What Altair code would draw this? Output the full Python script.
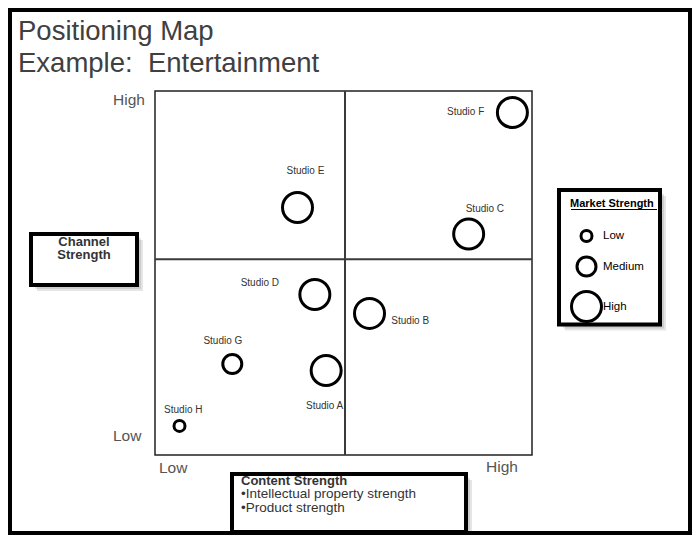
import altair as alt
import pandas as pd

# ---- data ----
studios = ["Studio A", "Studio B", "Studio C", "Studio D", "Studio E", "Studio F", "Studio G", "Studio H"]
content_strength = [4.54, 5.69, 8.32, 4.24, 3.78, 9.48, 2.05, 0.65]
channel_strength = [2.32, 3.89, 6.07, 4.41, 6.80, 9.41, 2.50, 0.80]
market_strength = ["High", "High", "High", "High", "High", "High", "Medium", "Low"]
label_x = [4.50, 6.77, 8.75, 2.78, 3.99, 8.24, 1.80, 0.75]
label_y = [1.35, 3.67, 6.76, 4.73, 7.81, 9.43, 3.14, 1.24]
strength_levels = ["Low", "Medium", "High"]
quadrant_split_x = 5.04
quadrant_split_y = 5.38

title_lines = ["Positioning Map", "Example:\u00a0 Entertainment"]
channel_box_lines = ["Channel", "Strength"]
content_box_title = "Content Strength"
content_box_lines = ["\u2022Intellectual property strength", "\u2022Product strength"]

df = pd.DataFrame({
    "studio": studios,
    "content": content_strength,
    "channel": channel_strength,
    "market": market_strength,
    "lx": label_x,
    "ly": label_y,
})

FONT = "Liberation Sans"
X_SCALE = alt.Scale(domain=[0, 10], range=[147, 524], nice=False, zero=False)
Y_SCALE = alt.Scale(domain=[0, 10], range=[447, 83], nice=False, zero=False)
dummy = alt.Data(values=[{"k": 1}])


def rect(x1, y1, x2, y2, **kw):
    return alt.Chart(dummy).mark_rect(**kw).encode(
        x=alt.value(x1), x2=alt.value(x2), y=alt.value(y1), y2=alt.value(y2))


def text(s, x, y, **kw):
    base = dict(font=FONT, align="left", baseline="alphabetic", color="#333")
    base.update(kw)
    return alt.Chart(dummy).mark_text(text=s, **base).encode(
        x=alt.value(x), y=alt.value(y))


def shadowed_box(x1, y1, x2, y2):
    layers = []
    for off in (2, 4, 6):
        layers.append(rect(x1 + off, y1 + off, x2 + off, y2 + off,
                           fill="black", opacity=0.10))
    layers.append(rect(x1, y1, x2, y2, fill="white", stroke="black", strokeWidth=4))
    return layers


layers = []
# outer frame
layers.append(rect(2, 2, 682, 525, fill="transparent", stroke="black", strokeWidth=4))

# boxes
layers += shadowed_box(23, 226, 129, 277)     # channel strength
layers += shadowed_box(224, 466, 458, 524)    # content strength
layers += shadowed_box(551, 182, 652, 316.5)  # legend box

# plot frame and quadrant lines
frame = alt.Chart(dummy).mark_rect(fill="transparent", stroke="#222", strokeWidth=1.5).encode(
    x=alt.XDatum(0, scale=X_SCALE, axis=None),
    x2=alt.X2Datum(10),
    y=alt.YDatum(0, scale=Y_SCALE, axis=None),
    y2=alt.Y2Datum(10),
)
vline = alt.Chart(dummy).mark_rule(color="#3a3a3a", strokeWidth=2).encode(
    x=alt.XDatum(quadrant_split_x, scale=X_SCALE, axis=None),
    y=alt.YDatum(0, scale=Y_SCALE, axis=None),
    y2=alt.Y2Datum(10),
)
hline = alt.Chart(dummy).mark_rule(color="#3a3a3a", strokeWidth=2).encode(
    y=alt.YDatum(quadrant_split_y, scale=Y_SCALE, axis=None),
    x=alt.XDatum(0, scale=X_SCALE, axis=None),
    x2=alt.X2Datum(10),
)
layers += [frame, vline, hline]

# studio circles
points = alt.Chart(df).mark_point(shape="circle", filled=False, color="black",
                                  strokeWidth=3, opacity=1).encode(
    x=alt.X("content:Q", scale=X_SCALE, axis=None),
    y=alt.Y("channel:Q", scale=Y_SCALE, axis=None),
    size=alt.Size("market:N",
                  scale=alt.Scale(type="ordinal", domain=strength_levels, range=[121, 361, 900]),
                  legend=alt.Legend(
                      title="Market Strength", orient="none", legendX=562, legendY=189.5,
                      padding=0, titleFont=FONT, titleFontSize=11, titleFontWeight="bold",
                      titleColor="black", titlePadding=20.5, labelFont=FONT,
                      labelFontSize=11.5, labelColor="black", labelOffset=0,
                      rowPadding=2.5, symbolType="circle", symbolStrokeColor="black",
                      symbolStrokeWidth=3, symbolFillColor="transparent",
                      symbolOpacity=1, zindex=1)),
)
labels = alt.Chart(df).mark_text(font=FONT, fontSize=10, color="#333").encode(
    x=alt.X("lx:Q", scale=X_SCALE, axis=None),
    y=alt.Y("ly:Q", scale=Y_SCALE, axis=None),
    text="studio:N",
)
layers += [points, labels]

# legend title underline
layers.append(alt.Chart(dummy).mark_rule(color="black", strokeWidth=1).encode(
    x=alt.value(563), x2=alt.value(649), y=alt.value(201.5)))

# titles
layers.append(text(title_lines[0], 10, 31.5, fontSize=27.5, color="#404040"))
layers.append(text(title_lines[1], 10, 64, fontSize=27.5, color="#404040"))

# axis end labels
layers.append(text("High", 105, 96.5, fontSize=15.5, color="#555"))
layers.append(text("Low", 105, 433, fontSize=15.5, color="#555"))
layers.append(text("Low", 151, 465, fontSize=15.5, color="#555"))
layers.append(text("High", 478, 463.5, fontSize=15.5, color="#555"))

# box texts
layers.append(text(channel_box_lines[0], 76, 237.5, fontSize=13, fontWeight="bold", align="center"))
layers.append(text(channel_box_lines[1], 76, 251, fontSize=13, fontWeight="bold", align="center"))
layers.append(text(content_box_title, 233, 476.5, fontSize=13, fontWeight="bold"))
layers.append(text(content_box_lines[0], 233, 490, fontSize=13.5))
layers.append(text(content_box_lines[1], 233, 504, fontSize=13.5))

chart = alt.layer(*layers).properties(
    width=684, height=527, padding=0, autosize=alt.AutoSizeParams(type="none")
).configure_view(strokeWidth=0).configure(font=FONT, background="white")

chart.save("out.html", embed_options={"renderer": "svg", "actions": False})
